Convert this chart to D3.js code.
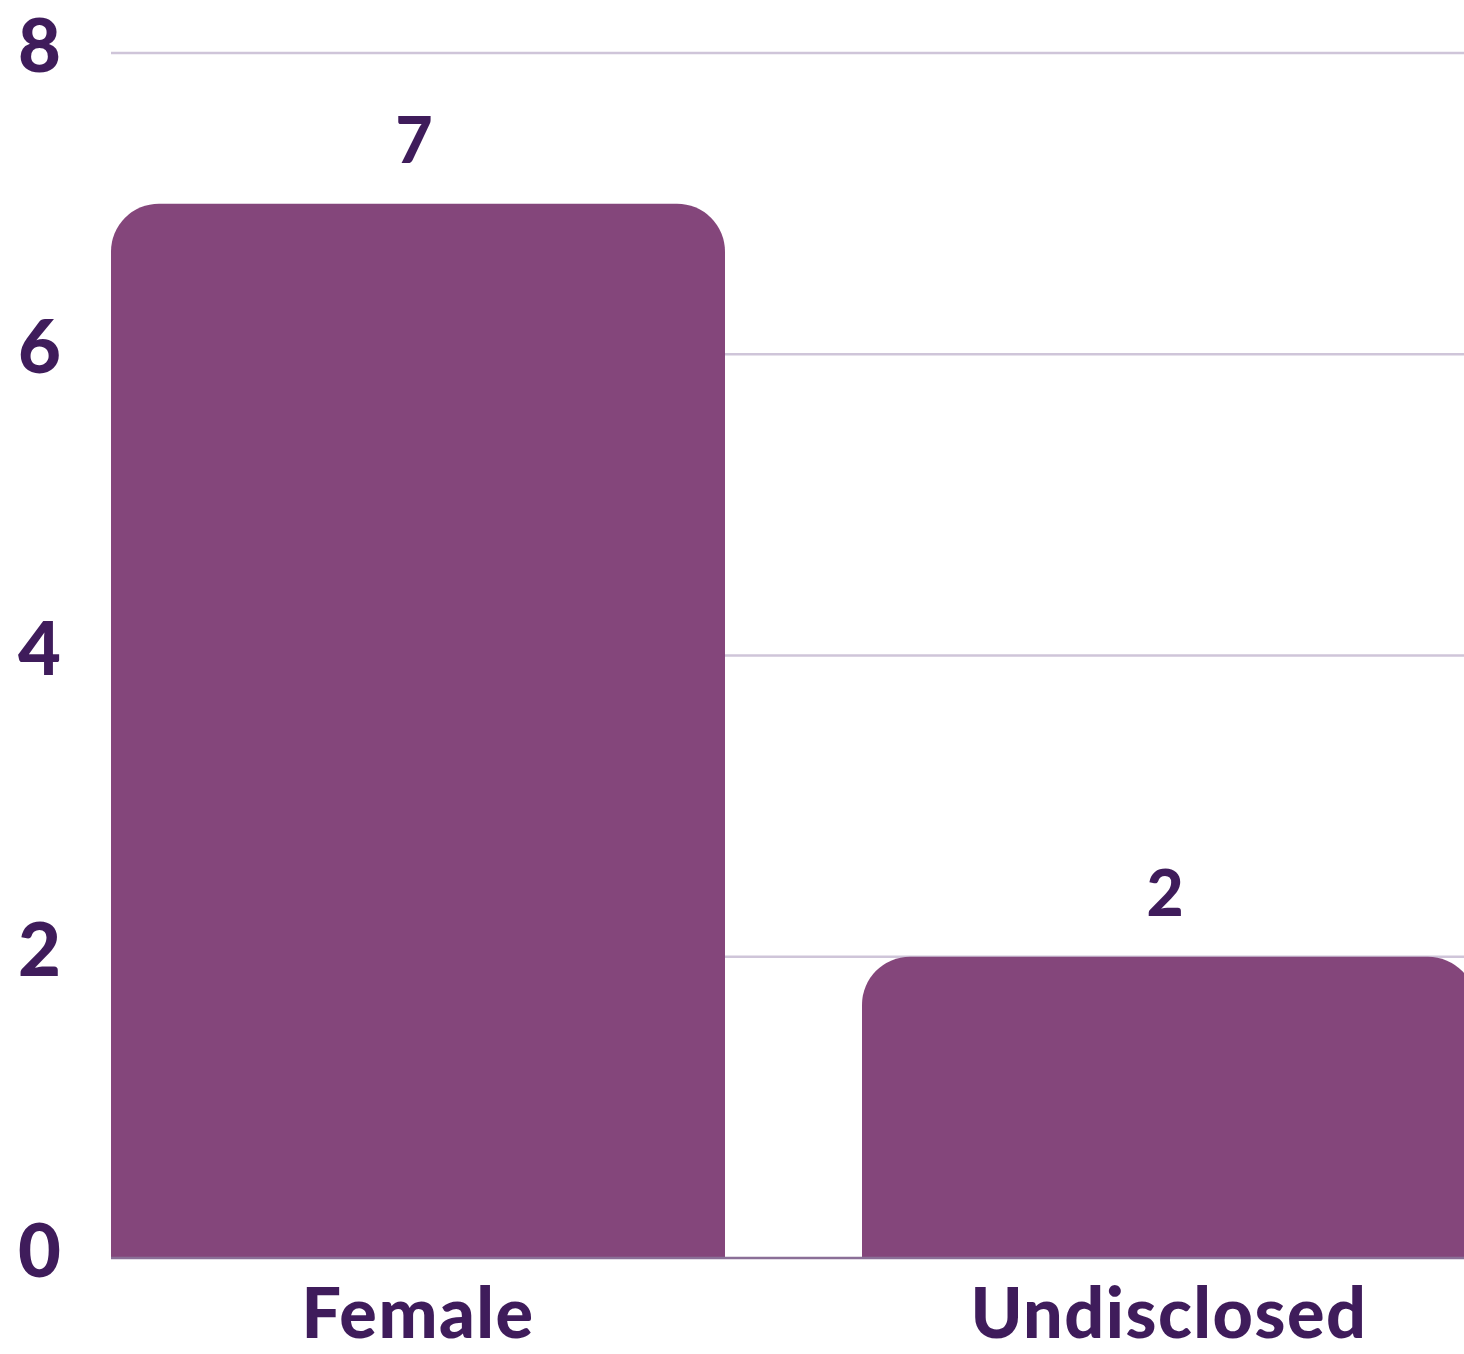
<!DOCTYPE html>
<html lang="en">
<head>
	<meta charset="UTF-8">
	<title>gender bar chart</title>
	<script src="https://cdn.jsdelivr.net/npm/d3@7/dist/d3.min.js"></script>
	<style>
		html, body { margin: 0; padding: 0; background: #fff; }
		svg { display: block; }
		text { font-family: Lato, "Open Sans", sans-serif; font-weight: 900; fill: #3f1c5b; }
	</style>
</head>
<body>
	<svg id="content" width="1464" height="1354"></svg>
<script>
var categories = ["Female", "Undisclosed"];
var counts = [7, 2];
var yTicks = [0, 2, 4, 6, 8];

var width = 1464, height = 1354;
var left = 111, top_ = 53, bottom = 1258;

var svg = d3.select("#content");

// second bar runs past the right edge, like the original
var x = d3.scaleBand()
	.domain(categories)
	.range([left, 1476])
	.paddingInner(137 / 751)
	.paddingOuter(0);

var y = d3.scaleLinear()
	.domain([0, 8])
	.range([bottom, top_]);

// grid lines
svg.append("g").selectAll("line")
	.data(yTicks.filter(function(d){ return d > 0; }))
	.enter()
	.append("line")
	.attr("x1", left)
	.attr("x2", width)
	.attr("y1", function(d){ return y(d); })
	.attr("y2", function(d){ return y(d); })
	.attr("stroke", "#cfc5d9")
	.attr("stroke-width", 2.5);

// y labels
svg.append("g").selectAll("text")
	.data(yTicks)
	.enter()
	.append("text")
	.attr("x", 61)
	.attr("y", function(d){ return y(d) + 19; })
	.attr("text-anchor", "end")
	.attr("font-size", 74)
	.text(function(d){ return d; });

// bars with rounded top corners
var r = 48;
function barPath(d, i) {
	var x0 = x(categories[i]), x1 = x0 + x.bandwidth();
	var yt = y(d), yb = y(0);
	return "M" + x0 + "," + yb +
		"L" + x0 + "," + (yt + r) +
		"A" + r + "," + r + " 0 0 1 " + (x0 + r) + "," + yt +
		"L" + (x1 - r) + "," + yt +
		"A" + r + "," + r + " 0 0 1 " + x1 + "," + (yt + r) +
		"L" + x1 + "," + yb + "Z";
}

svg.append("g").selectAll("path")
	.data(counts)
	.enter()
	.append("path")
	.attr("d", barPath)
	.attr("fill", "#84467b");

// baseline
svg.append("line")
	.attr("x1", left)
	.attr("x2", width)
	.attr("y1", bottom)
	.attr("y2", bottom)
	.attr("stroke", "#8a6f97")
	.attr("stroke-width", 2.5);

// value labels
svg.append("g").selectAll("text")
	.data(counts)
	.enter()
	.append("text")
	.attr("x", function(d, i){ return x(categories[i]) + x.bandwidth() / 2 - 4; })
	.attr("y", function(d){ return y(d) - 41; })
	.attr("text-anchor", "middle")
	.attr("font-size", 64)
	.text(function(d){ return d; });

// category labels
svg.append("g").selectAll("text")
	.data(categories)
	.enter()
	.append("text")
	.attr("x", function(d){ return x(d) + x.bandwidth() / 2; })
	.attr("y", 1338)
	.attr("text-anchor", "middle")
	.attr("font-size", 70)
	.attr("letter-spacing", 1.5)
	.text(function(d){ return d; });
</script>
</body>
</html>
